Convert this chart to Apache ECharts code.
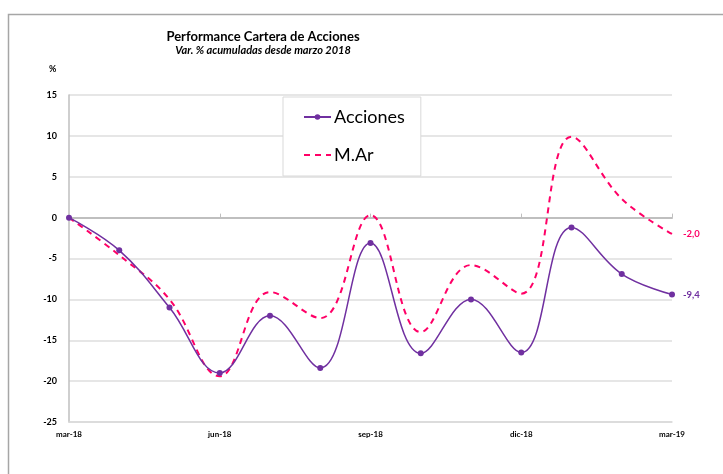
<!DOCTYPE html>
<html>
<head>
<meta charset="utf-8">
<script src="https://cdn.jsdelivr.net/npm/echarts@6/dist/echarts.min.js"></script>
<style>
html, body { margin: 0; padding: 0; background: #fff; }
#chart { width: 723px; height: 474px; }
</style>
</head>
<body>
<div id="chart"></div>
<script>
// meses (eje x)
var meses = ['mar-18', 'abr-18', 'may-18', 'jun-18', 'jul-18', 'ago-18', 'sep-18',
	'oct-18', 'nov-18', 'dic-18', 'ene-19', 'feb-19', 'mar-19'];
// var. % acumuladas
var acciones = [0, -4, -11, -19, -12, -18.4, -3.1, -16.6, -10, -16.5, -1.2, -6.9, -9.4];
var mercado = [0, -4.6, -10, -19.4, -9.1, -12.3, 0.3, -14, -5.8, -9.3, 9.9, 2.3, -2.0];

var FONT = 'Lato';
var PURPLE = '#7030a0';
var PINK = '#ff0066';

var fmt = function(v){
	return v.toFixed(1).replace('.', ',');
};

var chart = echarts.init(document.getElementById('chart'));

chart.setOption({
	animation: false,
	textStyle: { fontFamily: FONT },
	title: {
		text: 'Performance Cartera de Acciones',
		subtext: 'Var. % acumuladas desde marzo 2018',
		left: 258,
		top: 25,
		textAlign: 'center',
		itemGap: 2,
		textStyle: { fontSize: 13, fontWeight: 'bold', color: '#000', fontFamily: FONT },
		subtextStyle: { fontSize: 11, fontWeight: 'bold', fontStyle: 'italic', color: '#000', fontFamily: FONT }
	},
	graphic: [
		{
			type: 'rect',
			shape: { x: 8.5, y: 14.5, width: 730, height: 480 },
			style: { fill: 'none', stroke: '#a6a6a6', lineWidth: 1.5 },
			silent: true
		},
		{
			type: 'text',
			left: 49,
			top: 65,
			style: { text: '%', fontSize: 9, fontWeight: 'bold', fill: '#000', fontFamily: FONT }
		}
	],
	legend: {
		left: 283,
		top: 97,
		orient: 'vertical',
		padding: [11, 16, 12, 20],
		itemGap: 20,
		itemWidth: 27,
		itemHeight: 7,
		borderColor: '#d9d9d9',
		borderWidth: 1,
		backgroundColor: '#fff',
		textStyle: { fontSize: 18, color: '#000', fontFamily: FONT, padding: [0, 0, 0, -2] },
		data: [
			{ name: 'Acciones' },
			{ name: 'M.Ar', itemStyle: { opacity: 0 } }
		]
	},
	grid: { left: 69, right: 51, top: 95, bottom: 52 },
	xAxis: [
		{
			type: 'category',
			data: meses,
			boundaryGap: false,
			axisLine: { onZero: false, lineStyle: { color: '#d9d9d9', width: 1.5 } },
			axisTick: { show: false },
			axisLabel: {
				interval: function(i){ return i % 3 === 0; },
				fontSize: 8,
				fontWeight: 'bold',
				color: '#000',
				margin: 8
			},
			splitLine: { show: false }
		},
		{
			type: 'category',
			data: meses,
			position: 'bottom',
			boundaryGap: false,
			axisLine: { onZero: true, lineStyle: { color: '#bfbfbf', width: 2 } },
			axisTick: {
				show: true,
				inside: true,
				length: 4,
				interval: function(i){ return i % 3 === 0 && i > 0; },
				lineStyle: { color: '#bfbfbf' }
			},
			axisLabel: { show: false },
			splitLine: { show: false }
		}
	],
	yAxis: {
		type: 'value',
		min: -25,
		max: 15,
		interval: 5,
		axisLine: { show: true, lineStyle: { color: '#bfbfbf', width: 1.5 } },
		axisTick: { show: false },
		axisLabel: { fontSize: 9, fontWeight: 'bold', color: '#000', margin: 12 },
		splitLine: { lineStyle: { color: '#e6e6e6', width: 2 } }
	},
	series: [
		{
			name: 'M.Ar',
			type: 'line',
			data: mercado,
			smooth: 0.4,
			showSymbol: false,
			symbol: 'none',
			lineStyle: { color: PINK, width: 2, type: [6, 5] },
			itemStyle: { color: PINK },
			endLabel: {
				show: true,
				formatter: function(p){ return fmt(p.value); },
				color: PINK,
				fontSize: 9.5,
				fontWeight: 'bold',
				distance: 11
			},
			z: 2
		},
		{
			name: 'Acciones',
			type: 'line',
			data: acciones,
			smooth: 0.4,
			symbol: 'circle',
			symbolSize: 6,
			lineStyle: { color: PURPLE, width: 1.5 },
			itemStyle: { color: PURPLE },
			endLabel: {
				show: true,
				formatter: function(p){ return fmt(p.value); },
				color: PURPLE,
				fontSize: 9.5,
				fontWeight: 'bold',
				distance: 11
			},
			z: 3
		}
	]
});
</script>
</body>
</html>
